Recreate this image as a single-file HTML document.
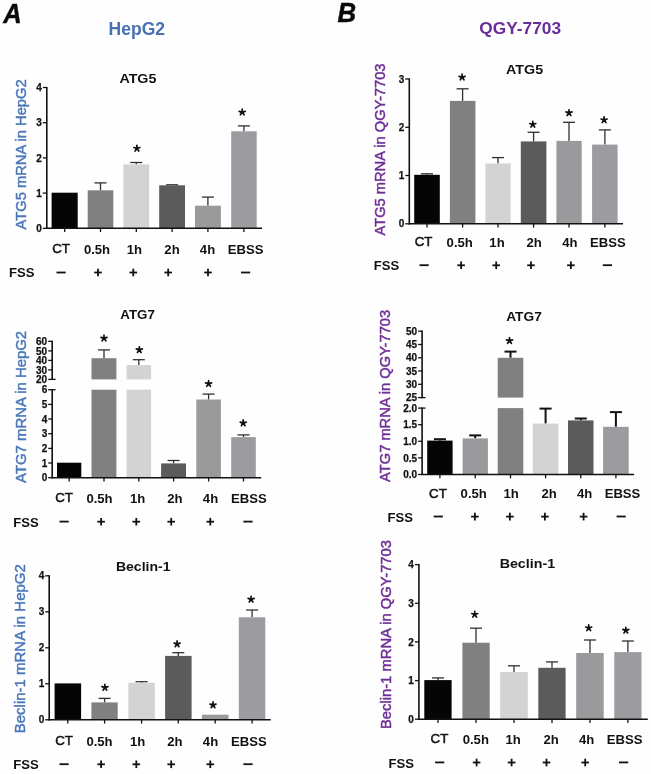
<!DOCTYPE html>
<html><head><meta charset="utf-8"><title>Figure</title>
<style>
html,body{margin:0;padding:0;background:#fff;}
body{width:651px;height:774px;overflow:hidden;font-family:"Liberation Sans",sans-serif;}
svg{display:block;filter:blur(0.45px);}
svg text{font-family:"Liberation Sans",sans-serif;}
</style></head><body>
<svg width="651" height="774" viewBox="0 0 651 774">
<rect x="0" y="0" width="651" height="774" fill="#fefefe"/>
<rect x="51.6" y="192.7" width="26.1" height="35.6" fill="#050505"/>
<line x1="64.7" y1="228.3" x2="64.7" y2="232.1" stroke="#111" stroke-width="1.3"/>
<line x1="100.5" y1="182.9" x2="100.5" y2="190.3" stroke="#303030" stroke-width="1.3"/>
<line x1="94.5" y1="182.9" x2="106.5" y2="182.9" stroke="#303030" stroke-width="1.3"/>
<rect x="87.7" y="190.3" width="25.6" height="38.0" fill="#808080"/>
<line x1="100.5" y1="228.3" x2="100.5" y2="232.1" stroke="#111" stroke-width="1.3"/>
<line x1="136.3" y1="162.5" x2="136.3" y2="164.4" stroke="#303030" stroke-width="1.3"/>
<line x1="130.3" y1="162.5" x2="142.3" y2="162.5" stroke="#303030" stroke-width="1.3"/>
<rect x="123.4" y="164.4" width="25.8" height="63.9" fill="#d3d3d3"/>
<line x1="136.3" y1="228.3" x2="136.3" y2="232.1" stroke="#111" stroke-width="1.3"/>
<line x1="172.1" y1="184.8" x2="172.1" y2="185.3" stroke="#303030" stroke-width="1.3"/>
<line x1="166.1" y1="184.8" x2="178.1" y2="184.8" stroke="#303030" stroke-width="1.3"/>
<rect x="159.2" y="185.3" width="25.8" height="43.0" fill="#5b5b5b"/>
<line x1="172.1" y1="228.3" x2="172.1" y2="232.1" stroke="#111" stroke-width="1.3"/>
<line x1="207.9" y1="197.1" x2="207.9" y2="205.7" stroke="#303030" stroke-width="1.3"/>
<line x1="201.9" y1="197.1" x2="213.9" y2="197.1" stroke="#303030" stroke-width="1.3"/>
<rect x="195.0" y="205.7" width="25.9" height="22.6" fill="#9a9a9c"/>
<line x1="207.9" y1="228.3" x2="207.9" y2="232.1" stroke="#111" stroke-width="1.3"/>
<line x1="243.9" y1="125.9" x2="243.9" y2="131.3" stroke="#303030" stroke-width="1.3"/>
<line x1="237.9" y1="125.9" x2="249.9" y2="125.9" stroke="#303030" stroke-width="1.3"/>
<rect x="231.2" y="131.3" width="25.5" height="97.0" fill="#9c9ca0"/>
<line x1="243.9" y1="228.3" x2="243.9" y2="232.1" stroke="#111" stroke-width="1.3"/>
<line x1="46.8" y1="86.9" x2="46.8" y2="228.9" stroke="#111" stroke-width="1.6"/>
<line x1="46.0" y1="228.3" x2="262.1" y2="228.3" stroke="#111" stroke-width="1.6"/>
<line x1="42.8" y1="87.5" x2="46.8" y2="87.5" stroke="#111" stroke-width="1.3"/>
<text x="41.8" y="91.1" font-size="10" font-weight="bold" text-anchor="end" fill="#111" stroke="#111" stroke-width="0.25">4</text>
<line x1="42.8" y1="122.7" x2="46.8" y2="122.7" stroke="#111" stroke-width="1.3"/>
<text x="41.8" y="126.3" font-size="10" font-weight="bold" text-anchor="end" fill="#111" stroke="#111" stroke-width="0.25">3</text>
<line x1="42.8" y1="157.9" x2="46.8" y2="157.9" stroke="#111" stroke-width="1.3"/>
<text x="41.8" y="161.5" font-size="10" font-weight="bold" text-anchor="end" fill="#111" stroke="#111" stroke-width="0.25">2</text>
<line x1="42.8" y1="193.1" x2="46.8" y2="193.1" stroke="#111" stroke-width="1.3"/>
<text x="41.8" y="196.7" font-size="10" font-weight="bold" text-anchor="end" fill="#111" stroke="#111" stroke-width="0.25">1</text>
<line x1="42.8" y1="228.3" x2="46.8" y2="228.3" stroke="#111" stroke-width="1.3"/>
<text x="41.8" y="231.9" font-size="10" font-weight="bold" text-anchor="end" fill="#111" stroke="#111" stroke-width="0.25">0</text>
<path d="M136.9 148.5L136.90 145.35M136.9 148.5L139.90 147.53M136.9 148.5L138.75 151.05M136.9 148.5L135.05 151.05M136.9 148.5L133.90 147.53" stroke="#111" stroke-width="1.7" stroke-linecap="round" fill="none"/>
<circle cx="136.9" cy="148.5" r="1.75" fill="#111"/>
<path d="M242.2 112.3L242.20 109.15M242.2 112.3L245.20 111.33M242.2 112.3L244.05 114.85M242.2 112.3L240.35 114.85M242.2 112.3L239.20 111.33" stroke="#111" stroke-width="1.7" stroke-linecap="round" fill="none"/>
<circle cx="242.2" cy="112.3" r="1.75" fill="#111"/>
<text x="61.1" y="253.3" font-size="13.3" font-weight="normal" text-anchor="middle" fill="#111" stroke="#111" stroke-width="0.5">CT</text>
<text x="97.0" y="253.9" font-size="13.1" font-weight="bold" text-anchor="middle" fill="#111" >0.5h</text>
<text x="134.4" y="253.9" font-size="13.1" font-weight="bold" text-anchor="middle" fill="#111" >1h</text>
<text x="172.0" y="253.9" font-size="13.1" font-weight="bold" text-anchor="middle" fill="#111" >2h</text>
<text x="207.5" y="253.9" font-size="13.1" font-weight="bold" text-anchor="middle" fill="#111" >4h</text>
<text x="245.6" y="253.9" font-size="13.1" font-weight="bold" text-anchor="middle" fill="#111" >EBSS</text>
<text x="9.1" y="277.4" font-size="13.1" font-weight="bold" text-anchor="start" fill="#111" >FSS</text>
<line x1="56.5" y1="272.5" x2="65.7" y2="272.5" stroke="#111" stroke-width="1.8"/>
<line x1="94.2" y1="272.5" x2="101.8" y2="272.5" stroke="#111" stroke-width="1.8"/>
<line x1="98.0" y1="268.7" x2="98.0" y2="276.3" stroke="#111" stroke-width="1.8"/>
<line x1="129.5" y1="272.5" x2="137.1" y2="272.5" stroke="#111" stroke-width="1.8"/>
<line x1="133.3" y1="268.7" x2="133.3" y2="276.3" stroke="#111" stroke-width="1.8"/>
<line x1="164.4" y1="272.5" x2="172.0" y2="272.5" stroke="#111" stroke-width="1.8"/>
<line x1="168.2" y1="268.7" x2="168.2" y2="276.3" stroke="#111" stroke-width="1.8"/>
<line x1="204.2" y1="272.5" x2="211.8" y2="272.5" stroke="#111" stroke-width="1.8"/>
<line x1="208.0" y1="268.7" x2="208.0" y2="276.3" stroke="#111" stroke-width="1.8"/>
<line x1="241.0" y1="272.5" x2="250.2" y2="272.5" stroke="#111" stroke-width="1.8"/>
<text transform="translate(25.6,229.4) rotate(-90)" font-size="13.8" textLength="150" lengthAdjust="spacingAndGlyphs" fill="#4b77ba" stroke="#4b77ba" stroke-width="0.45">ATG5 mRNA in HepG2</text>
<text x="137.9" y="83.4" font-size="13.2" font-weight="bold" text-anchor="middle" fill="#111" textLength="37" lengthAdjust="spacingAndGlyphs">ATG5</text>
<rect x="57.0" y="462.7" width="24.3" height="15.0" fill="#050505"/>
<line x1="69.2" y1="477.7" x2="69.2" y2="481.5" stroke="#111" stroke-width="1.3"/>
<line x1="104.0" y1="349.9" x2="104.0" y2="358.2" stroke="#303030" stroke-width="1.3"/>
<line x1="98.0" y1="349.9" x2="110.0" y2="349.9" stroke="#303030" stroke-width="1.3"/>
<rect x="91.5" y="358.2" width="24.9" height="21.2" fill="#808080"/>
<rect x="91.5" y="389.7" width="24.9" height="88.0" fill="#808080"/>
<line x1="104.0" y1="477.7" x2="104.0" y2="481.5" stroke="#111" stroke-width="1.3"/>
<line x1="138.8" y1="359.7" x2="138.8" y2="365.1" stroke="#303030" stroke-width="1.3"/>
<line x1="132.8" y1="359.7" x2="144.8" y2="359.7" stroke="#303030" stroke-width="1.3"/>
<rect x="126.6" y="365.1" width="24.5" height="14.3" fill="#d3d3d3"/>
<rect x="126.6" y="389.7" width="24.5" height="88.0" fill="#d3d3d3"/>
<line x1="138.8" y1="477.7" x2="138.8" y2="481.5" stroke="#111" stroke-width="1.3"/>
<line x1="173.6" y1="460.5" x2="173.6" y2="463.4" stroke="#303030" stroke-width="1.3"/>
<line x1="167.6" y1="460.5" x2="179.6" y2="460.5" stroke="#303030" stroke-width="1.3"/>
<rect x="161.1" y="463.4" width="24.9" height="14.3" fill="#5b5b5b"/>
<line x1="173.6" y1="477.7" x2="173.6" y2="481.5" stroke="#111" stroke-width="1.3"/>
<line x1="208.6" y1="394.1" x2="208.6" y2="399.5" stroke="#303030" stroke-width="1.3"/>
<line x1="202.6" y1="394.1" x2="214.6" y2="394.1" stroke="#303030" stroke-width="1.3"/>
<rect x="196.3" y="399.5" width="24.6" height="78.2" fill="#9a9a9c"/>
<line x1="208.6" y1="477.7" x2="208.6" y2="481.5" stroke="#111" stroke-width="1.3"/>
<line x1="243.5" y1="434.9" x2="243.5" y2="437.1" stroke="#303030" stroke-width="1.3"/>
<line x1="237.5" y1="434.9" x2="249.5" y2="434.9" stroke="#303030" stroke-width="1.3"/>
<rect x="231.2" y="437.1" width="24.6" height="40.6" fill="#9c9ca0"/>
<line x1="243.5" y1="477.7" x2="243.5" y2="481.5" stroke="#111" stroke-width="1.3"/>
<line x1="52.2" y1="340.7" x2="52.2" y2="380.0" stroke="#111" stroke-width="1.6"/>
<line x1="52.2" y1="389.1" x2="52.2" y2="478.3" stroke="#111" stroke-width="1.6"/>
<line x1="51.4" y1="477.7" x2="261.2" y2="477.7" stroke="#111" stroke-width="1.6"/>
<line x1="52.2" y1="379.4" x2="55.6" y2="379.4" stroke="#111" stroke-width="1.3"/>
<line x1="52.2" y1="389.7" x2="55.6" y2="389.7" stroke="#111" stroke-width="1.3"/>
<line x1="48.2" y1="341.3" x2="52.2" y2="341.3" stroke="#111" stroke-width="1.3"/>
<text x="47.2" y="344.9" font-size="10" font-weight="bold" text-anchor="end" fill="#111" stroke="#111" stroke-width="0.25">60</text>
<line x1="48.2" y1="350.9" x2="52.2" y2="350.9" stroke="#111" stroke-width="1.3"/>
<text x="47.2" y="354.5" font-size="10" font-weight="bold" text-anchor="end" fill="#111" stroke="#111" stroke-width="0.25">50</text>
<line x1="48.2" y1="360.4" x2="52.2" y2="360.4" stroke="#111" stroke-width="1.3"/>
<text x="47.2" y="364.0" font-size="10" font-weight="bold" text-anchor="end" fill="#111" stroke="#111" stroke-width="0.25">40</text>
<line x1="48.2" y1="369.9" x2="52.2" y2="369.9" stroke="#111" stroke-width="1.3"/>
<text x="47.2" y="373.5" font-size="10" font-weight="bold" text-anchor="end" fill="#111" stroke="#111" stroke-width="0.25">30</text>
<line x1="48.2" y1="379.4" x2="52.2" y2="379.4" stroke="#111" stroke-width="1.3"/>
<text x="47.2" y="383.0" font-size="10" font-weight="bold" text-anchor="end" fill="#111" stroke="#111" stroke-width="0.25">20</text>
<line x1="48.2" y1="389.7" x2="52.2" y2="389.7" stroke="#111" stroke-width="1.3"/>
<text x="47.2" y="393.3" font-size="10" font-weight="bold" text-anchor="end" fill="#111" stroke="#111" stroke-width="0.25">6</text>
<line x1="48.2" y1="404.4" x2="52.2" y2="404.4" stroke="#111" stroke-width="1.3"/>
<text x="47.2" y="408.0" font-size="10" font-weight="bold" text-anchor="end" fill="#111" stroke="#111" stroke-width="0.25">5</text>
<line x1="48.2" y1="419.0" x2="52.2" y2="419.0" stroke="#111" stroke-width="1.3"/>
<text x="47.2" y="422.6" font-size="10" font-weight="bold" text-anchor="end" fill="#111" stroke="#111" stroke-width="0.25">4</text>
<line x1="48.2" y1="433.7" x2="52.2" y2="433.7" stroke="#111" stroke-width="1.3"/>
<text x="47.2" y="437.3" font-size="10" font-weight="bold" text-anchor="end" fill="#111" stroke="#111" stroke-width="0.25">3</text>
<line x1="48.2" y1="448.4" x2="52.2" y2="448.4" stroke="#111" stroke-width="1.3"/>
<text x="47.2" y="452.0" font-size="10" font-weight="bold" text-anchor="end" fill="#111" stroke="#111" stroke-width="0.25">2</text>
<line x1="48.2" y1="463.0" x2="52.2" y2="463.0" stroke="#111" stroke-width="1.3"/>
<text x="47.2" y="466.6" font-size="10" font-weight="bold" text-anchor="end" fill="#111" stroke="#111" stroke-width="0.25">1</text>
<line x1="48.2" y1="477.7" x2="52.2" y2="477.7" stroke="#111" stroke-width="1.3"/>
<text x="47.2" y="481.3" font-size="10" font-weight="bold" text-anchor="end" fill="#111" stroke="#111" stroke-width="0.25">0</text>
<path d="M104.0 338.3L104.00 335.15M104.0 338.3L107.00 337.33M104.0 338.3L105.85 340.85M104.0 338.3L102.15 340.85M104.0 338.3L101.00 337.33" stroke="#111" stroke-width="1.7" stroke-linecap="round" fill="none"/>
<circle cx="104.0" cy="338.3" r="1.75" fill="#111"/>
<path d="M139.3 349.9L139.30 346.75M139.3 349.9L142.30 348.93M139.3 349.9L141.15 352.45M139.3 349.9L137.45 352.45M139.3 349.9L136.30 348.93" stroke="#111" stroke-width="1.7" stroke-linecap="round" fill="none"/>
<circle cx="139.3" cy="349.9" r="1.75" fill="#111"/>
<path d="M208.6 383.8L208.60 380.65M208.6 383.8L211.60 382.83M208.6 383.8L210.45 386.35M208.6 383.8L206.75 386.35M208.6 383.8L205.60 382.83" stroke="#111" stroke-width="1.7" stroke-linecap="round" fill="none"/>
<circle cx="208.6" cy="383.8" r="1.75" fill="#111"/>
<path d="M243.2 423.1L243.20 419.95M243.2 423.1L246.20 422.13M243.2 423.1L245.05 425.65M243.2 423.1L241.35 425.65M243.2 423.1L240.20 422.13" stroke="#111" stroke-width="1.7" stroke-linecap="round" fill="none"/>
<circle cx="243.2" cy="423.1" r="1.75" fill="#111"/>
<text x="64.1" y="502.4" font-size="13.3" font-weight="normal" text-anchor="middle" fill="#111" stroke="#111" stroke-width="0.5">CT</text>
<text x="99.5" y="502.9" font-size="13.1" font-weight="bold" text-anchor="middle" fill="#111" >0.5h</text>
<text x="137.6" y="502.9" font-size="13.1" font-weight="bold" text-anchor="middle" fill="#111" >1h</text>
<text x="174.8" y="502.9" font-size="13.1" font-weight="bold" text-anchor="middle" fill="#111" >2h</text>
<text x="210.5" y="502.9" font-size="13.1" font-weight="bold" text-anchor="middle" fill="#111" >4h</text>
<text x="248.8" y="502.9" font-size="13.1" font-weight="bold" text-anchor="middle" fill="#111" >EBSS</text>
<text x="13.3" y="526.5" font-size="13.1" font-weight="bold" text-anchor="start" fill="#111" >FSS</text>
<line x1="59.5" y1="521.6" x2="68.7" y2="521.6" stroke="#111" stroke-width="1.8"/>
<line x1="97.3" y1="521.7" x2="104.9" y2="521.7" stroke="#111" stroke-width="1.8"/>
<line x1="101.1" y1="517.9" x2="101.1" y2="525.5" stroke="#111" stroke-width="1.8"/>
<line x1="132.5" y1="521.7" x2="140.1" y2="521.7" stroke="#111" stroke-width="1.8"/>
<line x1="136.3" y1="517.9" x2="136.3" y2="525.5" stroke="#111" stroke-width="1.8"/>
<line x1="167.4" y1="521.7" x2="175.0" y2="521.7" stroke="#111" stroke-width="1.8"/>
<line x1="171.2" y1="517.9" x2="171.2" y2="525.5" stroke="#111" stroke-width="1.8"/>
<line x1="206.5" y1="521.7" x2="214.1" y2="521.7" stroke="#111" stroke-width="1.8"/>
<line x1="210.3" y1="517.9" x2="210.3" y2="525.5" stroke="#111" stroke-width="1.8"/>
<line x1="243.4" y1="521.6" x2="252.6" y2="521.6" stroke="#111" stroke-width="1.8"/>
<text transform="translate(26.0,482.9) rotate(-90)" font-size="13.8" textLength="152" lengthAdjust="spacingAndGlyphs" fill="#4b77ba" stroke="#4b77ba" stroke-width="0.45">ATG7 mRNA in HepG2</text>
<text x="137.6" y="318.5" font-size="13.2" font-weight="bold" text-anchor="middle" fill="#111" textLength="34.5" lengthAdjust="spacingAndGlyphs">ATG7</text>
<rect x="54.6" y="683.4" width="26.5" height="36.4" fill="#050505"/>
<line x1="67.8" y1="719.8" x2="67.8" y2="723.6" stroke="#111" stroke-width="1.3"/>
<line x1="104.6" y1="698.4" x2="104.6" y2="702.4" stroke="#303030" stroke-width="1.3"/>
<line x1="98.6" y1="698.4" x2="110.6" y2="698.4" stroke="#303030" stroke-width="1.3"/>
<rect x="91.4" y="702.4" width="26.3" height="17.4" fill="#808080"/>
<line x1="104.6" y1="719.8" x2="104.6" y2="723.6" stroke="#111" stroke-width="1.3"/>
<line x1="141.6" y1="681.7" x2="141.6" y2="682.7" stroke="#303030" stroke-width="1.3"/>
<line x1="135.6" y1="681.7" x2="147.6" y2="681.7" stroke="#303030" stroke-width="1.3"/>
<rect x="128.3" y="682.7" width="26.5" height="37.1" fill="#d3d3d3"/>
<line x1="141.6" y1="719.8" x2="141.6" y2="723.6" stroke="#111" stroke-width="1.3"/>
<line x1="178.3" y1="652.7" x2="178.3" y2="655.9" stroke="#303030" stroke-width="1.3"/>
<line x1="172.3" y1="652.7" x2="184.3" y2="652.7" stroke="#303030" stroke-width="1.3"/>
<rect x="165.1" y="655.9" width="26.5" height="63.9" fill="#5b5b5b"/>
<line x1="178.3" y1="719.8" x2="178.3" y2="723.6" stroke="#111" stroke-width="1.3"/>
<rect x="201.9" y="714.7" width="26.6" height="5.1" fill="#9a9a9c"/>
<line x1="215.2" y1="719.8" x2="215.2" y2="723.6" stroke="#111" stroke-width="1.3"/>
<line x1="252.1" y1="610.0" x2="252.1" y2="617.3" stroke="#303030" stroke-width="1.3"/>
<line x1="246.1" y1="610.0" x2="258.1" y2="610.0" stroke="#303030" stroke-width="1.3"/>
<rect x="238.8" y="617.3" width="26.5" height="102.5" fill="#9c9ca0"/>
<line x1="252.1" y1="719.8" x2="252.1" y2="723.6" stroke="#111" stroke-width="1.3"/>
<line x1="49.2" y1="575.2" x2="49.2" y2="720.4" stroke="#111" stroke-width="1.6"/>
<line x1="48.4" y1="719.8" x2="270.7" y2="719.8" stroke="#111" stroke-width="1.6"/>
<line x1="45.2" y1="575.8" x2="49.2" y2="575.8" stroke="#111" stroke-width="1.3"/>
<text x="44.2" y="579.4" font-size="10" font-weight="bold" text-anchor="end" fill="#111" stroke="#111" stroke-width="0.25">4</text>
<line x1="45.2" y1="611.8" x2="49.2" y2="611.8" stroke="#111" stroke-width="1.3"/>
<text x="44.2" y="615.4" font-size="10" font-weight="bold" text-anchor="end" fill="#111" stroke="#111" stroke-width="0.25">3</text>
<line x1="45.2" y1="647.8" x2="49.2" y2="647.8" stroke="#111" stroke-width="1.3"/>
<text x="44.2" y="651.4" font-size="10" font-weight="bold" text-anchor="end" fill="#111" stroke="#111" stroke-width="0.25">2</text>
<line x1="45.2" y1="683.8" x2="49.2" y2="683.8" stroke="#111" stroke-width="1.3"/>
<text x="44.2" y="687.4" font-size="10" font-weight="bold" text-anchor="end" fill="#111" stroke="#111" stroke-width="0.25">1</text>
<line x1="45.2" y1="719.8" x2="49.2" y2="719.8" stroke="#111" stroke-width="1.3"/>
<text x="44.2" y="723.4" font-size="10" font-weight="bold" text-anchor="end" fill="#111" stroke="#111" stroke-width="0.25">0</text>
<path d="M104.9 687.6L104.90 684.45M104.9 687.6L107.90 686.63M104.9 687.6L106.75 690.15M104.9 687.6L103.05 690.15M104.9 687.6L101.90 686.63" stroke="#111" stroke-width="1.7" stroke-linecap="round" fill="none"/>
<circle cx="104.9" cy="687.6" r="1.75" fill="#111"/>
<path d="M177.1 644.1L177.10 640.95M177.1 644.1L180.10 643.13M177.1 644.1L178.95 646.65M177.1 644.1L175.25 646.65M177.1 644.1L174.10 643.13" stroke="#111" stroke-width="1.7" stroke-linecap="round" fill="none"/>
<circle cx="177.1" cy="644.1" r="1.75" fill="#111"/>
<path d="M213.0 705.1L213.00 701.95M213.0 705.1L216.00 704.13M213.0 705.1L214.85 707.65M213.0 705.1L211.15 707.65M213.0 705.1L210.00 704.13" stroke="#111" stroke-width="1.7" stroke-linecap="round" fill="none"/>
<circle cx="213.0" cy="705.1" r="1.75" fill="#111"/>
<path d="M251.1 599.4L251.10 596.25M251.1 599.4L254.10 598.43M251.1 599.4L252.95 601.95M251.1 599.4L249.25 601.95M251.1 599.4L248.10 598.43" stroke="#111" stroke-width="1.7" stroke-linecap="round" fill="none"/>
<circle cx="251.1" cy="599.4" r="1.75" fill="#111"/>
<text x="64.1" y="744.9" font-size="13.3" font-weight="normal" text-anchor="middle" fill="#111" stroke="#111" stroke-width="0.5">CT</text>
<text x="99.5" y="745.6" font-size="13.1" font-weight="bold" text-anchor="middle" fill="#111" >0.5h</text>
<text x="137.6" y="745.6" font-size="13.1" font-weight="bold" text-anchor="middle" fill="#111" >1h</text>
<text x="174.8" y="745.6" font-size="13.1" font-weight="bold" text-anchor="middle" fill="#111" >2h</text>
<text x="210.5" y="745.6" font-size="13.1" font-weight="bold" text-anchor="middle" fill="#111" >4h</text>
<text x="248.8" y="745.6" font-size="13.1" font-weight="bold" text-anchor="middle" fill="#111" >EBSS</text>
<text x="13.3" y="769.3" font-size="13.1" font-weight="bold" text-anchor="start" fill="#111" >FSS</text>
<line x1="59.5" y1="764.2" x2="68.7" y2="764.2" stroke="#111" stroke-width="1.8"/>
<line x1="97.3" y1="764.3" x2="104.9" y2="764.3" stroke="#111" stroke-width="1.8"/>
<line x1="101.1" y1="760.5" x2="101.1" y2="768.1" stroke="#111" stroke-width="1.8"/>
<line x1="132.5" y1="764.3" x2="140.1" y2="764.3" stroke="#111" stroke-width="1.8"/>
<line x1="136.3" y1="760.5" x2="136.3" y2="768.1" stroke="#111" stroke-width="1.8"/>
<line x1="167.4" y1="764.3" x2="175.0" y2="764.3" stroke="#111" stroke-width="1.8"/>
<line x1="171.2" y1="760.5" x2="171.2" y2="768.1" stroke="#111" stroke-width="1.8"/>
<line x1="206.5" y1="764.3" x2="214.1" y2="764.3" stroke="#111" stroke-width="1.8"/>
<line x1="210.3" y1="760.5" x2="210.3" y2="768.1" stroke="#111" stroke-width="1.8"/>
<line x1="243.4" y1="764.2" x2="252.6" y2="764.2" stroke="#111" stroke-width="1.8"/>
<text transform="translate(24.8,733.2) rotate(-90)" font-size="13.8" textLength="169" lengthAdjust="spacingAndGlyphs" fill="#4b77ba" stroke="#4b77ba" stroke-width="0.45">Beclin-1 mRNA in HepG2</text>
<text x="143.2" y="571.4" font-size="13.2" font-weight="bold" text-anchor="middle" fill="#111" textLength="54.5" lengthAdjust="spacingAndGlyphs">Beclin-1</text>
<line x1="427.0" y1="173.8" x2="427.0" y2="174.8" stroke="#303030" stroke-width="1.3"/>
<line x1="421.0" y1="173.8" x2="433.0" y2="173.8" stroke="#303030" stroke-width="1.3"/>
<rect x="414.2" y="174.8" width="25.6" height="49.0" fill="#050505"/>
<line x1="427.0" y1="223.8" x2="427.0" y2="227.6" stroke="#111" stroke-width="1.3"/>
<line x1="462.6" y1="88.8" x2="462.6" y2="100.9" stroke="#303030" stroke-width="1.3"/>
<line x1="456.6" y1="88.8" x2="468.6" y2="88.8" stroke="#303030" stroke-width="1.3"/>
<rect x="449.9" y="100.9" width="25.5" height="122.9" fill="#808080"/>
<line x1="462.6" y1="223.8" x2="462.6" y2="227.6" stroke="#111" stroke-width="1.3"/>
<line x1="498.0" y1="157.6" x2="498.0" y2="163.5" stroke="#303030" stroke-width="1.3"/>
<line x1="492.0" y1="157.6" x2="504.0" y2="157.6" stroke="#303030" stroke-width="1.3"/>
<rect x="485.4" y="163.5" width="25.3" height="60.3" fill="#d3d3d3"/>
<line x1="498.0" y1="223.8" x2="498.0" y2="227.6" stroke="#111" stroke-width="1.3"/>
<line x1="533.6" y1="132.3" x2="533.6" y2="141.4" stroke="#303030" stroke-width="1.3"/>
<line x1="527.6" y1="132.3" x2="539.6" y2="132.3" stroke="#303030" stroke-width="1.3"/>
<rect x="520.8" y="141.4" width="25.6" height="82.4" fill="#5b5b5b"/>
<line x1="533.6" y1="223.8" x2="533.6" y2="227.6" stroke="#111" stroke-width="1.3"/>
<line x1="569.0" y1="122.3" x2="569.0" y2="140.9" stroke="#303030" stroke-width="1.3"/>
<line x1="563.0" y1="122.3" x2="575.0" y2="122.3" stroke="#303030" stroke-width="1.3"/>
<rect x="556.4" y="140.9" width="25.3" height="82.9" fill="#9a9a9c"/>
<line x1="569.0" y1="223.8" x2="569.0" y2="227.6" stroke="#111" stroke-width="1.3"/>
<line x1="604.9" y1="129.9" x2="604.9" y2="144.6" stroke="#303030" stroke-width="1.3"/>
<line x1="598.9" y1="129.9" x2="610.9" y2="129.9" stroke="#303030" stroke-width="1.3"/>
<rect x="592.1" y="144.6" width="25.5" height="79.2" fill="#9c9ca0"/>
<line x1="604.9" y1="223.8" x2="604.9" y2="227.6" stroke="#111" stroke-width="1.3"/>
<line x1="409.3" y1="78.4" x2="409.3" y2="224.4" stroke="#111" stroke-width="1.6"/>
<line x1="408.5" y1="223.8" x2="623.0" y2="223.8" stroke="#111" stroke-width="1.6"/>
<line x1="405.3" y1="79.0" x2="409.3" y2="79.0" stroke="#111" stroke-width="1.3"/>
<text x="404.3" y="82.6" font-size="10" font-weight="bold" text-anchor="end" fill="#111" stroke="#111" stroke-width="0.25">3</text>
<line x1="405.3" y1="127.3" x2="409.3" y2="127.3" stroke="#111" stroke-width="1.3"/>
<text x="404.3" y="130.9" font-size="10" font-weight="bold" text-anchor="end" fill="#111" stroke="#111" stroke-width="0.25">2</text>
<line x1="405.3" y1="175.5" x2="409.3" y2="175.5" stroke="#111" stroke-width="1.3"/>
<text x="404.3" y="179.1" font-size="10" font-weight="bold" text-anchor="end" fill="#111" stroke="#111" stroke-width="0.25">1</text>
<line x1="405.3" y1="223.8" x2="409.3" y2="223.8" stroke="#111" stroke-width="1.3"/>
<text x="404.3" y="227.4" font-size="10" font-weight="bold" text-anchor="end" fill="#111" stroke="#111" stroke-width="0.25">0</text>
<path d="M462.1 77.3L462.10 74.15M462.1 77.3L465.10 76.33M462.1 77.3L463.95 79.85M462.1 77.3L460.25 79.85M462.1 77.3L459.10 76.33" stroke="#111" stroke-width="1.7" stroke-linecap="round" fill="none"/>
<circle cx="462.1" cy="77.3" r="1.75" fill="#111"/>
<path d="M532.8 124.5L532.80 121.35M532.8 124.5L535.80 123.53M532.8 124.5L534.65 127.05M532.8 124.5L530.95 127.05M532.8 124.5L529.80 123.53" stroke="#111" stroke-width="1.7" stroke-linecap="round" fill="none"/>
<circle cx="532.8" cy="124.5" r="1.75" fill="#111"/>
<path d="M569.0 112.9L569.00 109.75M569.0 112.9L572.00 111.93M569.0 112.9L570.85 115.45M569.0 112.9L567.15 115.45M569.0 112.9L566.00 111.93" stroke="#111" stroke-width="1.7" stroke-linecap="round" fill="none"/>
<circle cx="569.0" cy="112.9" r="1.75" fill="#111"/>
<path d="M604.1 120.0L604.10 116.85M604.1 120.0L607.10 119.03M604.1 120.0L605.95 122.55M604.1 120.0L602.25 122.55M604.1 120.0L601.10 119.03" stroke="#111" stroke-width="1.7" stroke-linecap="round" fill="none"/>
<circle cx="604.1" cy="120.0" r="1.75" fill="#111"/>
<text x="423.5" y="246.2" font-size="13.3" font-weight="normal" text-anchor="middle" fill="#111" stroke="#111" stroke-width="0.5">CT</text>
<text x="459.7" y="246.7" font-size="13.1" font-weight="bold" text-anchor="middle" fill="#111" >0.5h</text>
<text x="497.0" y="246.7" font-size="13.1" font-weight="bold" text-anchor="middle" fill="#111" >1h</text>
<text x="534.2" y="246.7" font-size="13.1" font-weight="bold" text-anchor="middle" fill="#111" >2h</text>
<text x="569.9" y="246.7" font-size="13.1" font-weight="bold" text-anchor="middle" fill="#111" >4h</text>
<text x="607.9" y="246.7" font-size="13.1" font-weight="bold" text-anchor="middle" fill="#111" >EBSS</text>
<text x="373.8" y="269.7" font-size="13.1" font-weight="bold" text-anchor="start" fill="#111" >FSS</text>
<line x1="419.5" y1="265.2" x2="428.7" y2="265.2" stroke="#111" stroke-width="1.8"/>
<line x1="457.3" y1="265.3" x2="464.9" y2="265.3" stroke="#111" stroke-width="1.8"/>
<line x1="461.1" y1="261.5" x2="461.1" y2="269.1" stroke="#111" stroke-width="1.8"/>
<line x1="492.4" y1="265.3" x2="500.0" y2="265.3" stroke="#111" stroke-width="1.8"/>
<line x1="496.2" y1="261.5" x2="496.2" y2="269.1" stroke="#111" stroke-width="1.8"/>
<line x1="527.2" y1="265.3" x2="534.8" y2="265.3" stroke="#111" stroke-width="1.8"/>
<line x1="531.0" y1="261.5" x2="531.0" y2="269.1" stroke="#111" stroke-width="1.8"/>
<line x1="567.1" y1="265.3" x2="574.7" y2="265.3" stroke="#111" stroke-width="1.8"/>
<line x1="570.9" y1="261.5" x2="570.9" y2="269.1" stroke="#111" stroke-width="1.8"/>
<line x1="602.8" y1="265.2" x2="612.0" y2="265.2" stroke="#111" stroke-width="1.8"/>
<text transform="translate(384.5,235.5) rotate(-90)" font-size="13.8" textLength="172" lengthAdjust="spacingAndGlyphs" fill="#6f2f96" stroke="#6f2f96" stroke-width="0.45">ATG5 mRNA in QGY-7703</text>
<text x="524.6" y="74.1" font-size="13.2" font-weight="bold" text-anchor="middle" fill="#111" textLength="37" lengthAdjust="spacingAndGlyphs">ATG5</text>
<line x1="439.9" y1="439.2" x2="439.9" y2="440.6" stroke="#111" stroke-width="2.0"/>
<line x1="433.9" y1="439.2" x2="445.9" y2="439.2" stroke="#111" stroke-width="2.0"/>
<rect x="427.2" y="440.6" width="25.4" height="33.9" fill="#050505"/>
<line x1="439.9" y1="474.5" x2="439.9" y2="478.3" stroke="#111" stroke-width="1.3"/>
<line x1="475.2" y1="435.4" x2="475.2" y2="438.4" stroke="#111" stroke-width="2.0"/>
<line x1="469.2" y1="435.4" x2="481.2" y2="435.4" stroke="#111" stroke-width="2.0"/>
<rect x="462.6" y="438.4" width="25.3" height="36.1" fill="#9a9a9c"/>
<line x1="475.2" y1="474.5" x2="475.2" y2="478.3" stroke="#111" stroke-width="1.3"/>
<line x1="510.5" y1="351.6" x2="510.5" y2="357.8" stroke="#111" stroke-width="2.0"/>
<line x1="504.5" y1="351.6" x2="516.5" y2="351.6" stroke="#111" stroke-width="2.0"/>
<rect x="497.7" y="357.8" width="25.6" height="39.8" fill="#808080"/>
<rect x="497.7" y="408.1" width="25.6" height="66.4" fill="#808080"/>
<line x1="510.5" y1="474.5" x2="510.5" y2="478.3" stroke="#111" stroke-width="1.3"/>
<line x1="545.6" y1="408.6" x2="545.6" y2="423.6" stroke="#111" stroke-width="2.0"/>
<line x1="539.6" y1="408.6" x2="551.6" y2="408.6" stroke="#111" stroke-width="2.0"/>
<rect x="532.8" y="423.6" width="25.6" height="50.9" fill="#d3d3d3"/>
<line x1="545.6" y1="474.5" x2="545.6" y2="478.3" stroke="#111" stroke-width="1.3"/>
<line x1="580.8" y1="418.5" x2="580.8" y2="420.4" stroke="#111" stroke-width="2.0"/>
<line x1="574.8" y1="418.5" x2="586.8" y2="418.5" stroke="#111" stroke-width="2.0"/>
<rect x="568.0" y="420.4" width="25.5" height="54.1" fill="#5b5b5b"/>
<line x1="580.8" y1="474.5" x2="580.8" y2="478.3" stroke="#111" stroke-width="1.3"/>
<line x1="615.9" y1="412.1" x2="615.9" y2="426.8" stroke="#111" stroke-width="2.0"/>
<line x1="609.9" y1="412.1" x2="621.9" y2="412.1" stroke="#111" stroke-width="2.0"/>
<rect x="603.1" y="426.8" width="25.6" height="47.7" fill="#9c9ca0"/>
<line x1="615.9" y1="474.5" x2="615.9" y2="478.3" stroke="#111" stroke-width="1.3"/>
<line x1="422.1" y1="330.6" x2="422.1" y2="398.2" stroke="#111" stroke-width="1.6"/>
<line x1="422.1" y1="407.5" x2="422.1" y2="475.1" stroke="#111" stroke-width="1.6"/>
<line x1="421.3" y1="474.5" x2="634.1" y2="474.5" stroke="#111" stroke-width="1.6"/>
<line x1="422.1" y1="397.6" x2="425.5" y2="397.6" stroke="#111" stroke-width="1.3"/>
<line x1="422.1" y1="408.1" x2="425.5" y2="408.1" stroke="#111" stroke-width="1.3"/>
<line x1="418.1" y1="331.2" x2="422.1" y2="331.2" stroke="#111" stroke-width="1.3"/>
<text x="417.1" y="334.8" font-size="10" font-weight="bold" text-anchor="end" fill="#111" stroke="#111" stroke-width="0.25">50</text>
<line x1="418.1" y1="344.5" x2="422.1" y2="344.5" stroke="#111" stroke-width="1.3"/>
<text x="417.1" y="348.1" font-size="10" font-weight="bold" text-anchor="end" fill="#111" stroke="#111" stroke-width="0.25">45</text>
<line x1="418.1" y1="357.8" x2="422.1" y2="357.8" stroke="#111" stroke-width="1.3"/>
<text x="417.1" y="361.4" font-size="10" font-weight="bold" text-anchor="end" fill="#111" stroke="#111" stroke-width="0.25">40</text>
<line x1="418.1" y1="371.0" x2="422.1" y2="371.0" stroke="#111" stroke-width="1.3"/>
<text x="417.1" y="374.6" font-size="10" font-weight="bold" text-anchor="end" fill="#111" stroke="#111" stroke-width="0.25">35</text>
<line x1="418.1" y1="384.3" x2="422.1" y2="384.3" stroke="#111" stroke-width="1.3"/>
<text x="417.1" y="387.9" font-size="10" font-weight="bold" text-anchor="end" fill="#111" stroke="#111" stroke-width="0.25">30</text>
<line x1="418.1" y1="397.6" x2="422.1" y2="397.6" stroke="#111" stroke-width="1.3"/>
<text x="417.1" y="401.2" font-size="10" font-weight="bold" text-anchor="end" fill="#111" stroke="#111" stroke-width="0.25">25</text>
<line x1="418.1" y1="408.1" x2="422.1" y2="408.1" stroke="#111" stroke-width="1.3"/>
<text x="417.1" y="411.7" font-size="10" font-weight="bold" text-anchor="end" fill="#111" stroke="#111" stroke-width="0.25">2.0</text>
<line x1="418.1" y1="424.7" x2="422.1" y2="424.7" stroke="#111" stroke-width="1.3"/>
<text x="417.1" y="428.3" font-size="10" font-weight="bold" text-anchor="end" fill="#111" stroke="#111" stroke-width="0.25">1.5</text>
<line x1="418.1" y1="441.3" x2="422.1" y2="441.3" stroke="#111" stroke-width="1.3"/>
<text x="417.1" y="444.9" font-size="10" font-weight="bold" text-anchor="end" fill="#111" stroke="#111" stroke-width="0.25">1.0</text>
<line x1="418.1" y1="457.9" x2="422.1" y2="457.9" stroke="#111" stroke-width="1.3"/>
<text x="417.1" y="461.5" font-size="10" font-weight="bold" text-anchor="end" fill="#111" stroke="#111" stroke-width="0.25">0.5</text>
<line x1="418.1" y1="474.5" x2="422.1" y2="474.5" stroke="#111" stroke-width="1.3"/>
<text x="417.1" y="478.1" font-size="10" font-weight="bold" text-anchor="end" fill="#111" stroke="#111" stroke-width="0.25">0.0</text>
<path d="M509.5 340.8L509.50 337.65M509.5 340.8L512.50 339.83M509.5 340.8L511.35 343.35M509.5 340.8L507.65 343.35M509.5 340.8L506.50 339.83" stroke="#111" stroke-width="1.7" stroke-linecap="round" fill="none"/>
<circle cx="509.5" cy="340.8" r="1.75" fill="#111"/>
<text x="437.9" y="497.9" font-size="13.3" font-weight="normal" text-anchor="middle" fill="#111" stroke="#111" stroke-width="0.5">CT</text>
<text x="473.7" y="498.4" font-size="13.1" font-weight="bold" text-anchor="middle" fill="#111" >0.5h</text>
<text x="511.1" y="498.4" font-size="13.1" font-weight="bold" text-anchor="middle" fill="#111" >1h</text>
<text x="549.2" y="498.4" font-size="13.1" font-weight="bold" text-anchor="middle" fill="#111" >2h</text>
<text x="584.6" y="498.4" font-size="13.1" font-weight="bold" text-anchor="middle" fill="#111" >4h</text>
<text x="622.5" y="498.4" font-size="13.1" font-weight="bold" text-anchor="middle" fill="#111" >EBSS</text>
<text x="387.6" y="521.6" font-size="13.1" font-weight="bold" text-anchor="start" fill="#111" >FSS</text>
<line x1="433.7" y1="516.5" x2="442.9" y2="516.5" stroke="#111" stroke-width="1.8"/>
<line x1="471.1" y1="516.6" x2="478.7" y2="516.6" stroke="#111" stroke-width="1.8"/>
<line x1="474.9" y1="512.8" x2="474.9" y2="520.4" stroke="#111" stroke-width="1.8"/>
<line x1="506.1" y1="516.6" x2="513.7" y2="516.6" stroke="#111" stroke-width="1.8"/>
<line x1="509.9" y1="512.8" x2="509.9" y2="520.4" stroke="#111" stroke-width="1.8"/>
<line x1="541.1" y1="516.6" x2="548.7" y2="516.6" stroke="#111" stroke-width="1.8"/>
<line x1="544.9" y1="512.8" x2="544.9" y2="520.4" stroke="#111" stroke-width="1.8"/>
<line x1="579.8" y1="516.6" x2="587.4" y2="516.6" stroke="#111" stroke-width="1.8"/>
<line x1="583.6" y1="512.8" x2="583.6" y2="520.4" stroke="#111" stroke-width="1.8"/>
<line x1="616.6" y1="516.5" x2="625.8" y2="516.5" stroke="#111" stroke-width="1.8"/>
<text transform="translate(389.6,481.9) rotate(-90)" font-size="13.8" textLength="172" lengthAdjust="spacingAndGlyphs" fill="#6f2f96" stroke="#6f2f96" stroke-width="0.45">ATG7 mRNA in QGY-7703</text>
<text x="524.0" y="320.9" font-size="13.2" font-weight="bold" text-anchor="middle" fill="#111" textLength="35.5" lengthAdjust="spacingAndGlyphs">ATG7</text>
<line x1="438.0" y1="677.9" x2="438.0" y2="680.1" stroke="#303030" stroke-width="1.3"/>
<line x1="432.0" y1="677.9" x2="444.0" y2="677.9" stroke="#303030" stroke-width="1.3"/>
<rect x="424.3" y="680.1" width="27.3" height="39.1" fill="#050505"/>
<line x1="438.0" y1="719.2" x2="438.0" y2="723.0" stroke="#111" stroke-width="1.3"/>
<line x1="476.0" y1="628.2" x2="476.0" y2="642.7" stroke="#303030" stroke-width="1.3"/>
<line x1="470.0" y1="628.2" x2="482.0" y2="628.2" stroke="#303030" stroke-width="1.3"/>
<rect x="462.4" y="642.7" width="27.3" height="76.5" fill="#808080"/>
<line x1="476.0" y1="719.2" x2="476.0" y2="723.0" stroke="#111" stroke-width="1.3"/>
<line x1="514.0" y1="665.8" x2="514.0" y2="672.0" stroke="#303030" stroke-width="1.3"/>
<line x1="508.0" y1="665.8" x2="520.0" y2="665.8" stroke="#303030" stroke-width="1.3"/>
<rect x="500.2" y="672.0" width="27.6" height="47.2" fill="#d3d3d3"/>
<line x1="514.0" y1="719.2" x2="514.0" y2="723.0" stroke="#111" stroke-width="1.3"/>
<line x1="552.0" y1="661.9" x2="552.0" y2="667.8" stroke="#303030" stroke-width="1.3"/>
<line x1="546.0" y1="661.9" x2="558.0" y2="661.9" stroke="#303030" stroke-width="1.3"/>
<rect x="538.3" y="667.8" width="27.3" height="51.4" fill="#5b5b5b"/>
<line x1="552.0" y1="719.2" x2="552.0" y2="723.0" stroke="#111" stroke-width="1.3"/>
<line x1="590.0" y1="640.0" x2="590.0" y2="653.0" stroke="#303030" stroke-width="1.3"/>
<line x1="584.0" y1="640.0" x2="596.0" y2="640.0" stroke="#303030" stroke-width="1.3"/>
<rect x="576.2" y="653.0" width="27.5" height="66.2" fill="#9a9a9c"/>
<line x1="590.0" y1="719.2" x2="590.0" y2="723.0" stroke="#111" stroke-width="1.3"/>
<line x1="627.9" y1="641.0" x2="627.9" y2="652.1" stroke="#303030" stroke-width="1.3"/>
<line x1="621.9" y1="641.0" x2="633.9" y2="641.0" stroke="#303030" stroke-width="1.3"/>
<rect x="614.3" y="652.1" width="27.2" height="67.1" fill="#9c9ca0"/>
<line x1="627.9" y1="719.2" x2="627.9" y2="723.0" stroke="#111" stroke-width="1.3"/>
<line x1="418.9" y1="564.0" x2="418.9" y2="719.8" stroke="#111" stroke-width="1.6"/>
<line x1="418.1" y1="719.2" x2="647.8" y2="719.2" stroke="#111" stroke-width="1.6"/>
<line x1="414.9" y1="564.6" x2="418.9" y2="564.6" stroke="#111" stroke-width="1.3"/>
<text x="413.9" y="568.2" font-size="10" font-weight="bold" text-anchor="end" fill="#111" stroke="#111" stroke-width="0.25">4</text>
<line x1="414.9" y1="603.3" x2="418.9" y2="603.3" stroke="#111" stroke-width="1.3"/>
<text x="413.9" y="606.9" font-size="10" font-weight="bold" text-anchor="end" fill="#111" stroke="#111" stroke-width="0.25">3</text>
<line x1="414.9" y1="641.9" x2="418.9" y2="641.9" stroke="#111" stroke-width="1.3"/>
<text x="413.9" y="645.5" font-size="10" font-weight="bold" text-anchor="end" fill="#111" stroke="#111" stroke-width="0.25">2</text>
<line x1="414.9" y1="680.6" x2="418.9" y2="680.6" stroke="#111" stroke-width="1.3"/>
<text x="413.9" y="684.2" font-size="10" font-weight="bold" text-anchor="end" fill="#111" stroke="#111" stroke-width="0.25">1</text>
<line x1="414.9" y1="719.2" x2="418.9" y2="719.2" stroke="#111" stroke-width="1.3"/>
<text x="413.9" y="722.8" font-size="10" font-weight="bold" text-anchor="end" fill="#111" stroke="#111" stroke-width="0.25">0</text>
<path d="M474.7 614.5L474.70 611.35M474.7 614.5L477.70 613.53M474.7 614.5L476.55 617.05M474.7 614.5L472.85 617.05M474.7 614.5L471.70 613.53" stroke="#111" stroke-width="1.7" stroke-linecap="round" fill="none"/>
<circle cx="474.7" cy="614.5" r="1.75" fill="#111"/>
<path d="M588.7 628.0L588.70 624.85M588.7 628.0L591.70 627.03M588.7 628.0L590.55 630.55M588.7 628.0L586.85 630.55M588.7 628.0L585.70 627.03" stroke="#111" stroke-width="1.7" stroke-linecap="round" fill="none"/>
<circle cx="588.7" cy="628.0" r="1.75" fill="#111"/>
<path d="M625.8 630.4L625.80 627.25M625.8 630.4L628.80 629.43M625.8 630.4L627.65 632.95M625.8 630.4L623.95 632.95M625.8 630.4L622.80 629.43" stroke="#111" stroke-width="1.7" stroke-linecap="round" fill="none"/>
<circle cx="625.8" cy="630.4" r="1.75" fill="#111"/>
<text x="439.4" y="743.3" font-size="13.3" font-weight="normal" text-anchor="middle" fill="#111" stroke="#111" stroke-width="0.5">CT</text>
<text x="475.8" y="743.8" font-size="13.1" font-weight="bold" text-anchor="middle" fill="#111" >0.5h</text>
<text x="513.2" y="743.8" font-size="13.1" font-weight="bold" text-anchor="middle" fill="#111" >1h</text>
<text x="551.1" y="743.8" font-size="13.1" font-weight="bold" text-anchor="middle" fill="#111" >2h</text>
<text x="586.7" y="743.8" font-size="13.1" font-weight="bold" text-anchor="middle" fill="#111" >4h</text>
<text x="624.6" y="743.8" font-size="13.1" font-weight="bold" text-anchor="middle" fill="#111" >EBSS</text>
<text x="388.5" y="767.9" font-size="13.1" font-weight="bold" text-anchor="start" fill="#111" >FSS</text>
<line x1="435.1" y1="762.4" x2="444.3" y2="762.4" stroke="#111" stroke-width="1.8"/>
<line x1="472.8" y1="762.5" x2="480.4" y2="762.5" stroke="#111" stroke-width="1.8"/>
<line x1="476.6" y1="758.7" x2="476.6" y2="766.3" stroke="#111" stroke-width="1.8"/>
<line x1="507.8" y1="762.5" x2="515.4" y2="762.5" stroke="#111" stroke-width="1.8"/>
<line x1="511.6" y1="758.7" x2="511.6" y2="766.3" stroke="#111" stroke-width="1.8"/>
<line x1="542.7" y1="762.5" x2="550.3" y2="762.5" stroke="#111" stroke-width="1.8"/>
<line x1="546.5" y1="758.7" x2="546.5" y2="766.3" stroke="#111" stroke-width="1.8"/>
<line x1="581.4" y1="762.5" x2="589.0" y2="762.5" stroke="#111" stroke-width="1.8"/>
<line x1="585.2" y1="758.7" x2="585.2" y2="766.3" stroke="#111" stroke-width="1.8"/>
<line x1="619.0" y1="762.4" x2="628.2" y2="762.4" stroke="#111" stroke-width="1.8"/>
<text transform="translate(390.7,729.0) rotate(-90)" font-size="13.8" textLength="189" lengthAdjust="spacingAndGlyphs" fill="#6f2f96" stroke="#6f2f96" stroke-width="0.45">Beclin-1 mRNA in QGY-7703</text>
<text x="527.4" y="568.3" font-size="13.2" font-weight="bold" text-anchor="middle" fill="#111" textLength="55.5" lengthAdjust="spacingAndGlyphs">Beclin-1</text>
<text x="3.3" y="22.9" font-size="28.5" font-weight="bold" font-style="italic" fill="#0a0a0a" stroke="#0a0a0a" stroke-width="0.5" textLength="18.4" lengthAdjust="spacingAndGlyphs">A</text>
<text x="337.4" y="21.9" font-size="28.5" font-weight="bold" font-style="italic" fill="#0a0a0a" stroke="#0a0a0a" stroke-width="0.5" textLength="18.6" lengthAdjust="spacingAndGlyphs">B</text>
<text x="136.8" y="35.3" font-size="17.5" font-weight="bold" text-anchor="middle" fill="#4870b3" >HepG2</text>
<text x="520.2" y="33.5" font-size="17.3" font-weight="bold" text-anchor="middle" fill="#6a2c98" >QGY-7703</text>
</svg>
</body></html>
